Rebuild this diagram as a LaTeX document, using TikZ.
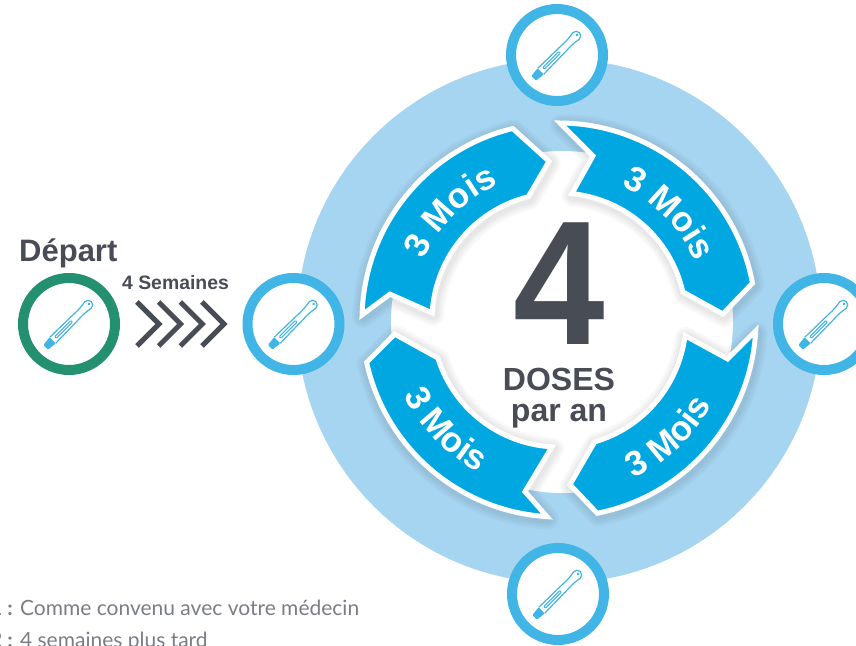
\documentclass[tikz,border=0pt]{standalone}
\usepackage{fontspec}
\setmainfont{Liberation Sans}
\newfontfamily\notefont{Lato}
\usetikzlibrary{decorations.text}

\definecolor{discblue}{HTML}{A6D5F1}
\definecolor{ringblue}{HTML}{41B6E6}
\definecolor{arrowblue}{HTML}{00A7E1}
\definecolor{ringgreen}{HTML}{23906F}
\definecolor{slate}{HTML}{474C55}
\definecolor{notegrey}{HTML}{7A7E84}

\tikzset{
    ring/.style={circle, draw=#1, fill=white, line width=10pt, minimum size=92pt, inner sep=0pt, outer sep=0pt},
    title/.style={text=slate, inner sep=0pt, anchor=base},
    mois/.style={decoration={text along path, text align=center,
        text={|\bfseries\fontsize{35}{35}\selectfont\color{white}|3 Mois}}, decorate},
    note/.style={font=\notefont\fontsize{21}{21}\selectfont, text=notegrey, anchor=base west, inner sep=0pt},
    penicon/.pic={
        \begin{scope}[rotate=45, ringblue]
            \fill[rounded corners=1pt] (-33,-3.2) -- (-33,3.2) -- (-23,4.4) -- (-23,-4.4) -- cycle;
            \draw[line width=1.2pt] (-23,4.2) -- (10,3.6) .. controls (16,3.2) and (20,3.4) .. (27,4.6)
                arc (90:-90:4.6) .. controls (20,-3.4) and (16,-3.2) .. (10,-3.6) -- (-23,-4.2);
            \draw[line width=1pt, rounded corners=1pt] (-19,-1.2) rectangle (4,1.2);
            \fill (28.5,0) circle (1.5);
        \end{scope}
    }
}

\begin{document}
\begin{tikzpicture}[x=1pt, y=1pt]
    \useasboundingbox (0,0) rectangle (856,645);

    % background disc and white middle
    \fill[discblue] (559,324) circle (262);
    \fill[white] (562,323) circle (171);

    % the four arrows
    \begin{scope}[shift={(559,325)}]
        \foreach \ta/\tb/\ha/\hr/\ia/\ib/\na/\nr in {
            178.5/103.6/93.6/159/104/176.8/171.3/171,
            89.7/10.8/2.1/164/12.8/84.2/78.3/167.5,
            -3.2/-78.8/-86.2/165/-73.7/-7.1/-13/173,
            266.5/192.4/184.9/165/197.4/266.8/258.8/175} {
            \def\arrowpath{(\ta:197) arc (\ta:\tb:197) -- (\ha:\hr) -- (\ia:127) arc (\ia:\ib:127) -- (\na:\nr) -- cycle}
            \foreach \w in {22,18,14,10} {
                \draw[black, opacity=0.025, line width=\w pt, line join=round, xshift=1pt, yshift=-2pt] \arrowpath;
            }
            \draw[white, fill=arrowblue, line width=5pt, miter limit=10] \arrowpath;
        }

        \path[mois] (180:148) arc (180:90:148);
        \path[mois] (89:148) arc (89:-1:148);
        \path[mois] (-92:175) arc (-92:-2:175);
        \path[mois] (179:172) arc (179:269:172);
    \end{scope}

    % rings with their pens
    \node[ring=ringgreen] (ringstart) at (69,321) {};
    \node[ring=ringblue] (ringleft) at (293.5,321) {};
    \node[ring=ringblue] (ringtop) at (557,590) {};
    \node[ring=ringblue] (ringright) at (824,321) {};
    \node[ring=ringblue] (ringbottom) at (558,51) {};
    \foreach \r in {ringstart,ringleft,ringtop,ringright,ringbottom} {
        \pic at (\r) {penicon};
    }

    % chevrons
    \foreach \x in {137,158.7,180.4,202} {
        \draw[slate, line width=5pt] (\x,343) -- ++(22,-22) -- ++(-22,-22);
    }

    % texts
    \node[title, font=\bfseries\fontsize{31}{31}\selectfont, anchor=base west] (depart) at (19,383) {Départ};
    \node[title, font=\bfseries\fontsize{19.4}{19.4}\selectfont] (semaines) at (175.5,355) {4 Semaines};
    \node[title, font=\bfseries\fontsize{177}{177}\selectfont, xscale=0.93, transform shape] (four) at (559,300) {4};
    \node[title, font=\bfseries\fontsize{32}{32}\selectfont] (doses) at (559,254) {DOSES};
    \node[title, font=\bfseries\fontsize{32}{32}\selectfont] (paran) at (559,223) {par an};

    \node[note] (notea) at (-10,30) {\textbf{1 :} Comme convenu avec votre médecin};
    \node[note] (noteb) at (-10,-2) {\textbf{2 :} 4 semaines plus tard};
\end{tikzpicture}
\end{document}
